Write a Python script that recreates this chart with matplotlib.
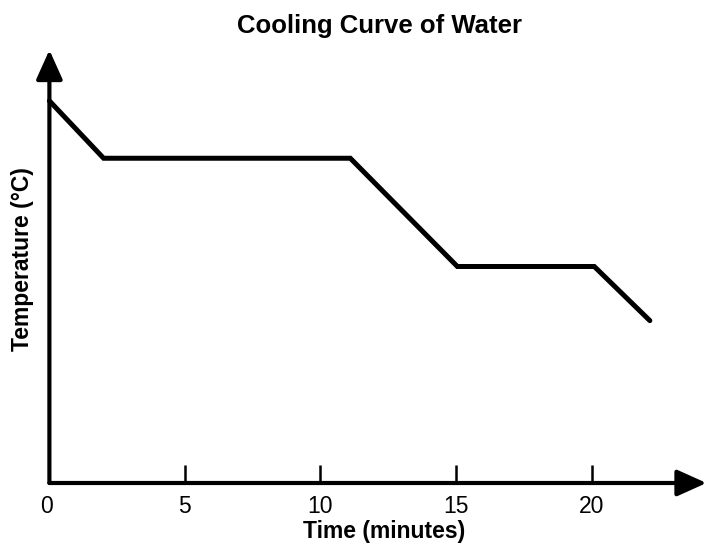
import matplotlib
matplotlib.use("Agg")
import matplotlib.pyplot as plt
from matplotlib.transforms import ScaledTranslation

plt.rcParams['font.family'] = ['Liberation Sans', 'DejaVu Sans']

# Data (time in minutes, temperature in arbitrary °C scale; no y ticks shown)
time_min = [0, 2, 11.1, 15.05, 20.1, 22.15]
temperature = [153, 100, 100, 0, 0, -50]
x_ticks = [0, 5, 10, 15, 20]
x_tick_labels = ["0", "5", "10", "15", "20"]

W, H = 710, 547
fig = plt.figure(figsize=(W / 100, H / 100), dpi=100)

left_px, right_px = 49.4, 700
bottom_px, top_px = 483, 50
ax = fig.add_axes([left_px / W, 1 - bottom_px / H,
                   (right_px - left_px) / W, (bottom_px - top_px) / H])
ax.set_xlim(0, 24)
ax.set_ylim(-200, 200)

ax.plot(time_min, temperature, color='black', lw=3.6,
        solid_joinstyle='miter', solid_capstyle='round', clip_on=False)

for s in ax.spines.values():
    s.set_visible(False)

arrow_kw = dict(arrowstyle='-|>,head_length=1.0,head_width=0.45',
                color='black', lw=3.0, shrinkA=0, shrinkB=0,
                mutation_scale=18)
# x axis arrow
ax.annotate('', xy=(1.01, 0), xytext=(0, 0), xycoords='axes fraction',
            textcoords='axes fraction', arrowprops=arrow_kw, annotation_clip=False)
# y axis arrow
ax.annotate('', xy=(0, 1.0), xytext=(0, 0), xycoords='axes fraction',
            textcoords='axes fraction', arrowprops=arrow_kw, annotation_clip=False)

ax.set_xticks(x_ticks[1:])
ax.set_xticklabels([])
ax.tick_params(axis='x', direction='in', length=13, width=1.8, color='black')
ax.set_yticks([])

for t, lab in zip(x_ticks, x_tick_labels):
    dx = -3 / 100 if t == 0 else 0
    tr = ax.get_xaxis_transform() + ScaledTranslation(dx, 0, fig.dpi_scale_trans)
    ax.text(t, -(513 - 483) / (bottom_px - top_px), lab, transform=tr,
            ha='center', va='baseline', fontsize=16.5)

fig.text(380 / W, 1 - 33 / H, "Cooling Curve of Water", ha='center', va='baseline',
         fontsize=18.5, fontweight='bold')
fig.text(384 / W, 1 - 538 / H, "Time (minutes)", ha='center', va='baseline',
         fontsize=16.5, fontweight='bold')
fig.text(23 / W, 1 - 259 / H, "Temperature (°C)", ha='center', va='center',
         fontsize=16.5, fontweight='bold', rotation=90)

fig.savefig("out.png", dpi=100)
